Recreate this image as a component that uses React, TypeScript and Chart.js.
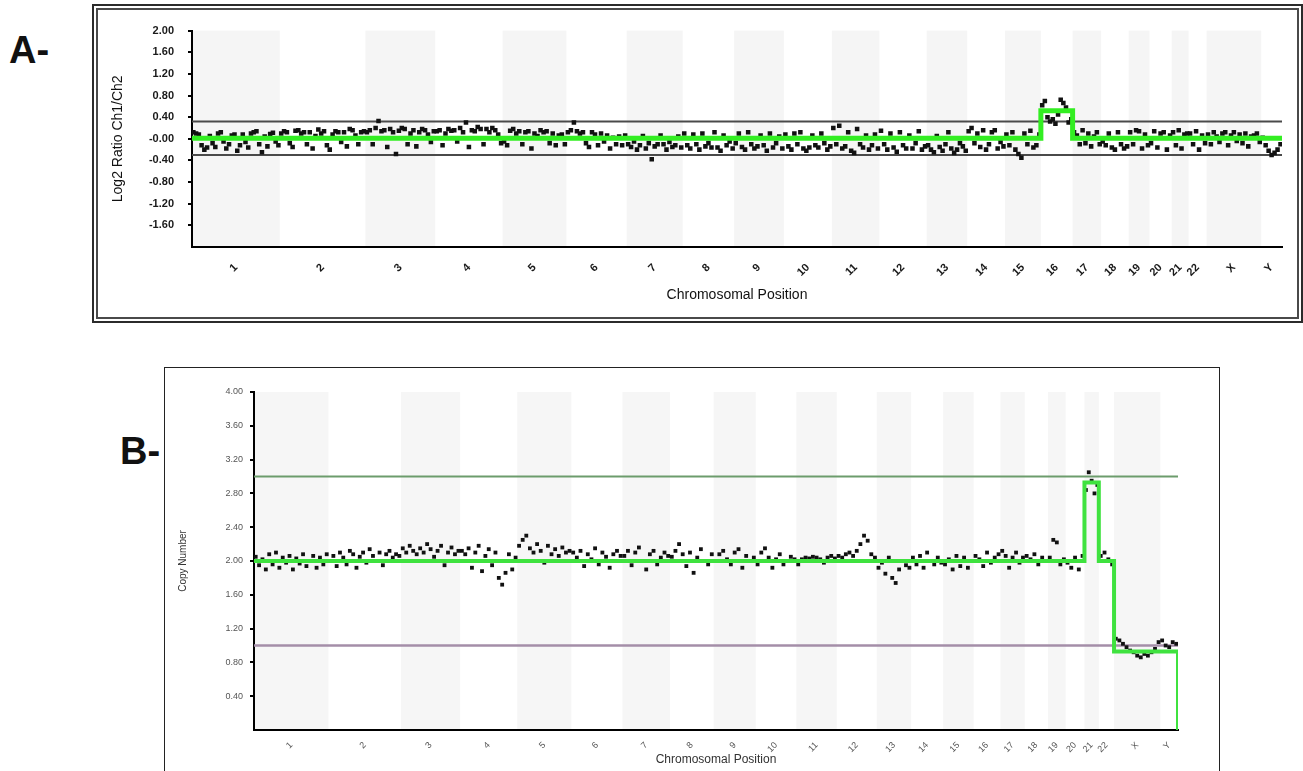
import React, { useEffect, useRef } from "react";
import { Chart, registerables } from "chart.js";

Chart.register(...registerables);

// ---------- data ----------
const chromosomes = ["1","2","3","4","5","6","7","8","9","10","11","12","13","14","15","16","17","18","19","20","21","22","X","Y"];
const chromLengthsMb = [249,243,198,191,181,171,159,146,141,136,135,134,115,107,102,90,81,78,59,63,48,51,155,59];

// Panel A: log2 ratio per chromosome (probe values in order along each chromosome)
const log2RatioA: number[][] = [
  [0.12,0.1,0.08,-0.12,-0.2,-0.16,0.05,-0.08,-0.15,0.1,0.12,-0.05,-0.18,-0.1,0.06,0.08,-0.22,-0.12,0.08,-0.06,-0.16,0.1,0.12,0.14,-0.1,-0.25,0.04,-0.14,0.09,0.11,-0.05,-0.12],
  [0.1,0.14,0.12,-0.08,-0.15,0.15,0.16,0.1,0.12,-0.1,0.12,-0.18,0.05,0.17,0.1,0.14,-0.12,-0.2,0.08,0.14,0.12,-0.06,0.12,-0.14,0.18,0.16,0.06,-0.1,0.12,0.14],
  [0.12,0.16,-0.1,0.2,0.33,0.14,0.16,-0.15,0.18,0.12,-0.28,0.15,0.2,0.18,-0.1,0.1,0.16,-0.14,0.12,0.18,0.16,0.08,-0.06,0.14],
  [0.14,0.16,-0.12,0.1,0.18,0.15,0.16,-0.05,0.2,0.12,0.3,-0.15,0.16,0.14,0.22,0.18,-0.1,0.18,0.12,0.2,0.16,0.08,-0.08],
  [-0.05,-0.12,0.15,0.18,0.1,0.14,-0.1,0.12,0.14,-0.18,0.1,0.05,0.16,0.12,0.14,-0.08,0.1,-0.12,0.06,0.08,-0.1],
  [0.12,0.16,0.3,0.14,0.1,0.12,-0.08,-0.15,0.12,0.08,-0.12,0.1,-0.05,0.06,-0.18,0.02,-0.1,0.04,-0.12,0.06],
  [-0.1,-0.15,-0.05,-0.2,-0.12,0.05,-0.18,-0.08,-0.38,-0.14,-0.1,0.06,-0.1,-0.2,-0.06,-0.15,-0.12,0.04,-0.16],
  [0.1,-0.12,-0.18,0.08,-0.1,-0.2,0.1,-0.14,-0.08,-0.16,0.12,-0.16,-0.22,0.06,-0.12,-0.05,-0.18],
  [-0.08,0.1,-0.15,-0.2,0.12,-0.1,-0.18,-0.14,0.06,-0.12,-0.22,0.1,-0.16,-0.08,0.04,-0.18],
  [0.08,-0.14,-0.2,0.1,-0.1,0.12,-0.18,-0.22,-0.16,0.06,-0.12,-0.16,0.1,-0.08,-0.2,-0.14],
  [0.2,-0.1,0.24,-0.18,-0.14,0.12,-0.22,-0.26,0.18,-0.1,-0.16,0.06,-0.2,-0.12,0.08,-0.18],
  [0.15,-0.1,-0.2,0.1,-0.16,-0.24,0.12,-0.12,-0.18,0.06,-0.18,-0.08,0.14,-0.2,-0.14],
  [-0.12,-0.2,-0.25,0.05,-0.15,-0.22,-0.1,0.12,-0.18,-0.26,-0.2,-0.08,-0.14,-0.22],
  [0.14,0.2,-0.08,0.1,-0.15,0.16,-0.2,-0.1,0.12,0.16,-0.18,-0.06,-0.14],
  [0.08,-0.12,0.12,-0.2,-0.28,-0.35,0.1,-0.1,0.15,-0.16,-0.12,0.08],
  [0.62,0.7,0.4,0.32,0.36,0.28,0.45,0.72,0.66,0.58,0.3,0.36],
  [0.12,0.06,-0.1,0.16,-0.08,0.1,-0.14,0.04,0.12,-0.1],
  [-0.05,-0.12,0.1,-0.16,-0.2,0.12,-0.1,-0.18,-0.14],
  [0.12,-0.1,0.16,0.14,-0.18,0.08,-0.12],
  [-0.08,0.14,-0.16,0.1,0.12,-0.2,0.06],
  [0.12,-0.12,0.16,-0.18,0.08,0.1],
  [0.1,-0.1,0.14,-0.2,0.06,-0.08],
  [0.08,-0.1,0.12,0.04,-0.06,0.1,0.12,-0.12,0.06,0.12,-0.04,0.08,-0.08,0.1,-0.14,0.04,0.06,0.1,-0.06],
  [0.02,-0.12,-0.22,-0.3,-0.26,-0.2,-0.1],
];
const segmentLevelA = [0.01,0.01,0.01,0.01,0.01,0.01,0.01,0.01,0.01,0.01,0.01,0.01,0.01,0.01,0.01,0.52,0.01,0.01,0.01,0.01,0.01,0.01,0.01,0.01];
const thresholdsA = [0.32, -0.3];
const yTickLabelsA = ["-1.60","-1.20","-0.80","-0.40","-0.00","0.40","0.80","1.20","1.60","2.00"];

// Panel B: copy number per chromosome
const copyNumberB: number[][] = [
  [2.05,1.95,2.02,1.9,2.08,1.96,2.1,1.92,2.04,1.98,2.06,1.9,2.03,1.97,2.08,1.94,2.0,2.06,1.92,2.04,1.96,2.08],
  [2.0,2.06,1.94,2.1,2.04,1.96,2.12,2.08,1.92,2.05,2.1,1.98,2.14,2.06,2.0,2.1,1.95,2.08,2.12,2.04,2.08,2.06],
  [2.15,2.1,2.18,2.12,2.08,2.15,2.1,2.2,2.14,2.05,2.12,2.18,1.95,2.1,2.16,2.08,2.12],
  [2.12,2.08,2.15,1.92,2.1,2.18,1.88,2.06,2.14,1.95,2.1,1.8,1.72,1.86,2.08,1.9,2.04],
  [2.18,2.25,2.3,2.15,2.1,2.2,2.12,1.98,2.18,2.08,2.14,2.06,2.16,2.1,2.12],
  [2.1,2.04,2.12,1.94,2.08,2.02,2.15,1.96,2.1,2.05,1.92,2.08,2.12,2.06],
  [2.06,2.12,1.95,2.1,2.16,2.0,1.9,2.08,2.12,1.96,2.04,2.1,2.06],
  [2.05,2.12,2.2,2.08,1.94,2.1,1.86,2.04,2.14,2.0,1.96,2.08],
  [2.0,2.08,2.12,2.02,1.96,2.1,2.14,1.92,2.06,2.0,2.04],
  [1.96,2.1,2.15,2.04,1.92,2.02,2.08,1.96,2.0,2.05,2.02],
  [1.96,2.02,2.04,2.03,2.05,2.04,2.02,1.98,2.04,2.06,2.03],
  [2.06,2.04,2.08,2.1,2.06,2.12,2.2,2.3,2.24,2.08,2.04],
  [1.92,1.98,1.85,2.04,1.8,1.74,1.9,2.0,1.95,1.92],
  [2.04,1.96,2.06,1.92,2.1,2.0,1.96,2.04,1.98],
  [1.96,2.02,1.9,2.06,1.94,2.04,1.92,2.0],
  [2.06,2.02,1.94,2.1,1.98,2.04,2.08],
  [2.12,2.06,1.92,2.04,2.1,1.98,2.04],
  [2.06,2.02,2.08,1.96,2.04,2.0],
  [2.04,2.25,2.22,1.96,2.02],
  [1.98,1.92,2.04,1.9,2.06],
  [2.84,3.05,2.95,2.8,2.9],
  [2.06,2.1,2.02,1.96],
  [1.08,1.06,1.02,0.98,0.94,0.92,0.88,0.86,0.9,0.88,0.92,0.96,1.04],
  [1.06,1.0,0.98,1.04,1.02],
];
const segmentLevelB = [2,2,2,2,2,2,2,2,2,2,2,2,2,2,2,2,2,2,2,2,2.93,2,0.93,0.93];
const segmentEndB = 0;
const thresholdsB = [3.0, 1.0];
const yTickLabelsB = ["0.40","0.80","1.20","1.60","2.00","2.40","2.80","3.20","3.60","4.00"];

// ---------- helpers ----------
const chromStarts = chromLengthsMb.map((_, i) => chromLengthsMb.slice(0, i).reduce((a, b) => a + b, 0));
const genomeTotal = chromLengthsMb.reduce((a, b) => a + b, 0);
const chromCenters = chromStarts.map((s, i) => s + chromLengthsMb[i] / 2);

function spreadPoints(values: number[][]) {
  const pts: { x: number; y: number }[] = [];
  values.forEach((vals, i) => {
    vals.forEach((v, j) => pts.push({ x: chromStarts[i] + (chromLengthsMb[i] * (j + 0.5)) / vals.length, y: v }));
  });
  return pts;
}
function segmentPoints(levels: number[], endValue?: number) {
  const pts: { x: number; y: number }[] = [];
  levels.forEach((v, i) => {
    pts.push({ x: chromStarts[i], y: v });
    pts.push({ x: chromStarts[i] + chromLengthsMb[i], y: v });
  });
  if (endValue !== undefined) pts.push({ x: genomeTotal, y: endValue });
  return pts;
}
function hLine(v: number) {
  return [{ x: 0, y: v }, { x: genomeTotal, y: v }];
}

const bandsPlugin = {
  id: "chromBands",
  beforeDraw(chart: any, _args: any, opts: any) {
    const { ctx, chartArea, scales } = chart;
    const x = scales.x;
    ctx.save();
    ctx.fillStyle = opts.color || "#f0f0f0";
    chromStarts.forEach((s, i) => {
      if (i % 2 === 0) {
        const x0 = x.getPixelForValue(s);
        const x1 = x.getPixelForValue(s + chromLengthsMb[i]);
        ctx.fillRect(x0, chartArea.top, x1 - x0, chartArea.bottom - chartArea.top);
      }
    });
    ctx.restore();
  },
};

const FONT = "'Liberation Sans', Arial, sans-serif";

type PanelCfg = {
  points: { x: number; y: number }[];
  segment: { x: number; y: number }[];
  thresholds: { v: number; color: string; width: number }[];
  yLabels: string[];
  yMin: number;
  yMax: number;
  yTitle: string;
  yTitleSize: number;
  yTitlePad: number;
  yWidth: number;
  xHeight: number;
  xTitleSize: number;
  xTitlePad: number;
  padding: { left: number; right: number; top: number; bottom: number };
  tickFont: number;
  tickWeight: string;
  xTickFont: number;
  tickColor: string;
  titleColor: string;
  yTickPad: number;
  xTickPad: number;
  pointRadius: number;
  segColor: string;
  segWidth: number;
  bandColor: string;
};

function makeConfig(c: PanelCfg): any {
  return {
    type: "scatter",
    data: {
      datasets: [
        {
          data: c.segment,
          showLine: true,
          borderColor: c.segColor,
          borderWidth: c.segWidth,
          pointRadius: 0,
          order: 0,
        },
        {
          data: c.points,
          backgroundColor: "#111",
          borderColor: "#111",
          borderWidth: 0,
          pointStyle: "rect",
          pointRadius: c.pointRadius,
          order: 1,
        },
        ...c.thresholds.map((t) => ({
          data: hLine(t.v),
          showLine: true,
          borderColor: t.color,
          borderWidth: t.width,
          pointRadius: 0,
          order: 2,
        })),
      ],
    },
    options: {
      responsive: false,
      animation: false,
      devicePixelRatio: 1,
      events: [],
      layout: { padding: c.padding },
      plugins: {
        legend: { display: false },
        tooltip: { enabled: false },
        chromBands: { color: c.bandColor },
      },
      scales: {
        x: {
          type: "linear",
          min: 0,
          max: genomeTotal,
          afterBuildTicks: (scale: any) => {
            scale.ticks = chromCenters.map((v) => ({ value: v }));
          },
          afterFit: (scale: any) => {
            scale.height = c.xHeight;
          },
          ticks: {
            autoSkip: false,
            minRotation: 45,
            maxRotation: 45,
            padding: c.xTickPad,
            color: c.tickColor,
            font: { family: FONT, size: c.xTickFont, weight: c.tickWeight },
            callback: (_v: any, i: number) => chromosomes[i],
          },
          grid: { display: false },
          border: { display: true, color: "#000", width: 2 },
          title: {
            display: true,
            text: "Chromosomal Position",
            color: c.titleColor,
            font: { family: FONT, size: c.xTitleSize },
            padding: { top: 0, bottom: c.xTitlePad },
          },
        },
        y: {
          type: "linear",
          min: c.yMin,
          max: c.yMax,
          afterBuildTicks: (scale: any) => {
            scale.ticks = c.yLabels.map((l) => ({ value: parseFloat(l) }));
          },
          afterFit: (scale: any) => {
            scale.width = c.yWidth;
          },
          ticks: {
            autoSkip: false,
            padding: c.yTickPad,
            color: c.tickColor,
            font: { family: FONT, size: c.tickFont, weight: c.tickWeight },
            callback: (v: number) => c.yLabels.find((l) => Math.abs(parseFloat(l) - v) < 1e-9) ?? "",
          },
          grid: { display: true, drawOnChartArea: false, drawTicks: true, tickLength: 4, color: "#000", lineWidth: 2 },
          border: { display: true, color: "#000", width: 2 },
          title: {
            display: true,
            text: c.yTitle,
            color: c.titleColor,
            font: { family: FONT, size: c.yTitleSize },
            padding: { top: c.yTitlePad, bottom: 0 },
          },
        },
      },
    },
    plugins: [bandsPlugin],
  };
}

function ChartCanvas({ cfg, left, top, width, height }: { cfg: PanelCfg; left: number; top: number; width: number; height: number }) {
  const ref = useRef<HTMLCanvasElement>(null);
  useEffect(() => {
    const chart = new Chart(ref.current as HTMLCanvasElement, makeConfig(cfg));
    return () => chart.destroy();
  }, []);
  return (
    <canvas
      ref={ref}
      width={width}
      height={height}
      style={{ position: "absolute", left, top, width, height }}
    />
  );
}

const panelA: PanelCfg = {
  points: spreadPoints(log2RatioA),
  segment: segmentPoints(segmentLevelA),
  thresholds: thresholdsA.map((v) => ({ v, color: "#4a4a4a", width: 2 })),
  yLabels: yTickLabelsA,
  yMin: -2,
  yMax: 2,
  yTitle: "Log2 Ratio Ch1/Ch2",
  yTitleSize: 14,
  yTitlePad: 12,
  yWidth: 94,
  xHeight: 71,
  xTitleSize: 14,
  xTitlePad: 14,
  padding: { left: 0, right: 15, top: 15, bottom: 0 },
  tickFont: 11,
  tickWeight: "bold",
  xTickFont: 11,
  tickColor: "#1a1a1a",
  titleColor: "#111",
  yTickPad: 14,
  xTickPad: 6,
  pointRadius: 3.2,
  segColor: "#33ee22",
  segWidth: 5,
  bandColor: "#f5f5f5",
};

const panelB: PanelCfg = {
  points: spreadPoints(copyNumberB),
  segment: segmentPoints(segmentLevelB, segmentEndB),
  thresholds: [
    { v: thresholdsB[0], color: "#6c9c6c", width: 2 },
    { v: thresholdsB[1], color: "#a48ea8", width: 2.5 },
  ],
  yLabels: yTickLabelsB,
  yMin: 0,
  yMax: 4,
  yTitle: "Copy Number",
  yTitleSize: 10,
  yTitlePad: 11,
  yWidth: 88,
  xHeight: 39,
  xTitleSize: 12,
  xTitlePad: 2,
  padding: { left: 0, right: 40, top: 23, bottom: 0 },
  tickFont: 9,
  tickWeight: "normal",
  xTickFont: 9,
  tickColor: "#555",
  titleColor: "#333",
  yTickPad: 7,
  xTickPad: 2,
  pointRadius: 2.7,
  segColor: "#3fe23f",
  segWidth: 4,
  bandColor: "#f6f6f6",
};

export default function App() {
  return (
    <div style={{ position: "absolute", left: 0, top: 0, width: 1303, height: 771, overflow: "hidden", background: "#fff" }}>
      <div style={{ position: "absolute", left: 9, top: 31, fontFamily: FONT, fontWeight: "bold", fontSize: 38, lineHeight: 1, color: "#111" }}>A-</div>
      <div style={{ position: "absolute", left: 92, top: 4, width: 1211, height: 319, boxSizing: "border-box", border: "2px solid #2b2b2b" }} />
      <div style={{ position: "absolute", left: 96, top: 8, width: 1203, height: 311, boxSizing: "border-box", border: "2px solid #4a4a4a" }} />
      <ChartCanvas cfg={panelA} left={98} top={10} width={1199} height={308} />

      <div style={{ position: "absolute", left: 120, top: 432, fontFamily: FONT, fontWeight: "bold", fontSize: 38, lineHeight: 1, color: "#111" }}>B-</div>
      <div style={{ position: "absolute", left: 164, top: 367, width: 1056, height: 430, boxSizing: "border-box", border: "1px solid #222" }} />
      <ChartCanvas cfg={panelB} left={166} top={369} width={1052} height={400} />
    </div>
  );
}
